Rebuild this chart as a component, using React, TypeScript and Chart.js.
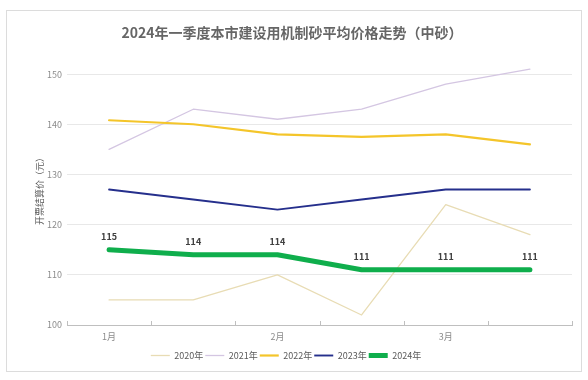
import React, { useEffect, useRef } from "react";
import { Chart, registerables } from "chart.js";

Chart.register(...registerables);

const TITLE = "2024年一季度本市建设用机制砂平均价格走势（中砂）";
const Y_TITLE = "开票结算价（元）";
const categories = ["1月", "", "2月", "", "3月", ""];
const seriesNames = ["2020年", "2021年", "2022年", "2023年", "2024年"];
const v2020 = [105, 105, 110, 102, 124, 118];
const v2021 = [135, 143, 141, 143, 148, 151];
const v2022 = [140.8, 140, 138, 137.5, 138, 136];
const v2023 = [127, 125, 123, 125, 127, 127];
const v2024 = [115, 114, 114, 111, 111, 111];
const yTicks = [100, 110, 120, 130, 140, 150];

const colors = ["#e8dcb4", "#d4c6e2", "#f4c52a", "#252f8c", "#0fae4c"];
const widths = [1.3, 1.3, 2.2, 1.9, 5];

const FONT = "'Noto Sans CJK SC', 'Noto Sans', sans-serif";

const decorPlugin = {
  id: "decor",
  afterDraw(chart: any) {
    const ctx = chart.ctx;
    const xs = chart.scales.x;
    const area = chart.chartArea;
    ctx.save();
    // title
    ctx.fillStyle = "#666666";
    ctx.font = `bold 14px ${FONT}`;
    ctx.textAlign = "center";
    ctx.textBaseline = "middle";
    ctx.fillText(TITLE, 292, 33);
    // y title
    ctx.save();
    ctx.translate(40, (area.top + area.bottom) / 2 + 2);
    ctx.rotate(-Math.PI / 2);
    ctx.font = `9px ${FONT}`;
    ctx.fillStyle = "#595959";
    ctx.fillText(Y_TITLE, 0, 0);
    ctx.restore();
    // inward tick marks on x axis
    ctx.strokeStyle = "#bfbfbf";
    ctx.lineWidth = 1;
    for (let i = 0; i <= categories.length; i++) {
      const x = Math.round(xs.getPixelForValue(i - 0.5)) + 0.5;
      ctx.beginPath();
      ctx.moveTo(x, area.bottom);
      ctx.lineTo(x, area.bottom - 4);
      ctx.stroke();
    }
    // data labels for 2024
    const meta = chart.getDatasetMeta(4);
    ctx.font = `bold 9px ${FONT}`;
    ctx.fillStyle = "#404040";
    meta.data.forEach((pt: any, i: number) => {
      ctx.fillText(String(v2024[i]), pt.x, pt.y - 13);
    });
    ctx.restore();
  },
};

export default function App() {
  const ref = useRef<HTMLCanvasElement>(null);
  useEffect(() => {
    const all = [v2020, v2021, v2022, v2023, v2024];
    const chart = new Chart(ref.current!, {
      type: "line",
      data: {
        labels: categories,
        datasets: all.map((d, i) => ({
          label: seriesNames[i],
          data: d,
          borderColor: colors[i],
          backgroundColor: colors[i],
          borderWidth: widths[i],
          pointRadius: 0,
          tension: 0,
          borderCapStyle: "round" as const,
          borderJoinStyle: "round" as const,
          order: 5 - i,
        })),
      },
      options: {
        responsive: false,
        animation: false,
        layout: { padding: { left: 0, right: 16, top: 49, bottom: 10 } },
        plugins: {
          title: { display: false },
          tooltip: { enabled: false },
          legend: {
            position: "bottom",
            labels: {
              usePointStyle: true,
              pointStyle: "line",
              pointStyleWidth: 19,
              padding: 2,
              color: "#595959",
              font: { size: 9, family: FONT },
              sort: (a: any, b: any) => a.datasetIndex - b.datasetIndex,
            },
          },
        },
        scales: {
          x: {
            offset: true,
            grid: { display: false, drawOnChartArea: false, drawTicks: false },
            border: { display: true, color: "#bfbfbf", width: 1 },
            ticks: {
              autoSkip: false,
              maxRotation: 0,
              padding: 6,
              color: "#8c8c8c",
              font: { size: 9, family: FONT },
            },
            afterFit: (s: any) => {
              s.height = 24;
            },
          },
          y: {
            min: 100,
            max: 155,
            afterBuildTicks: (s: any) => {
              s.ticks = yTicks.map((v) => ({ value: v }));
            },
            grid: { color: "#e8e8e8", drawTicks: false },
            border: { display: false },
            ticks: {
              padding: 5,
              color: "#8c8c8c",
              font: { size: 9, family: FONT },
            },
            afterFit: (s: any) => {
              s.width = 67;
            },
          },
        },
      },
      plugins: [decorPlugin],
    });
    return () => chart.destroy();
  }, []);
  return (
    <div style={{ position: "fixed", left: 0, top: 0, width: 588, height: 380, background: "#fff" }}>
      <canvas ref={ref} width={588} height={380} style={{ display: "block" }} />
      <div
        style={{
          position: "absolute",
          left: 6,
          top: 10,
          width: 576,
          height: 362,
          border: "1px solid #dcdcdc",
          boxSizing: "border-box",
          pointerEvents: "none",
        }}
      />
    </div>
  );
}
